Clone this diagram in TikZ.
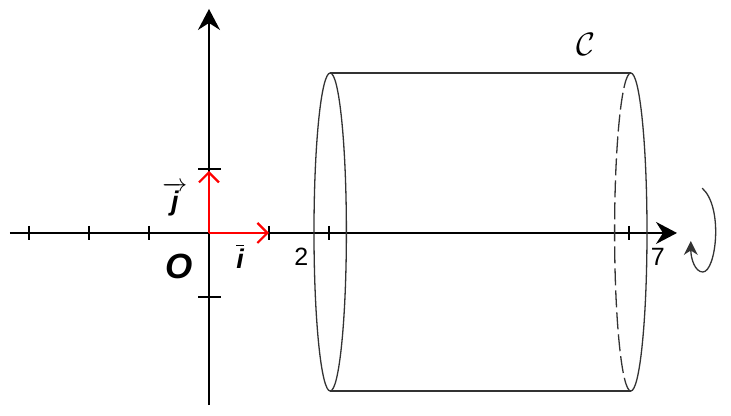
\documentclass[tikz,border=0pt]{standalone}
\usepackage{amsmath,amssymb}
\usepackage{fontspec}
\setmainfont{Liberation Sans}
\usepackage{tikz}
\usetikzlibrary{arrows.meta}

\tikzset{
    axisline/.style={line width=2pt,-{Stealth[length=21pt,width=22pt,inset=7pt]}},
    vect/.style={red,line width=2.2pt,-{Straight Barb[length=10pt,width=20pt,line width=2.2pt]}},
    cyledge/.style={line width=1.3pt,black!80},
    tickmark/.style={line width=1.2pt},
    lab/.style={inner sep=0pt,font=\fontsize{25}{27}\selectfont},
    vlab/.style={inner sep=0pt,font=\fontsize{27}{29}\selectfont\bfseries\itshape}
}

\begin{document}
\begin{tikzpicture}[x=60pt,y=64pt]
    \useasboundingbox (-3.483,-2.859) rectangle (8.7,3.64);

    % axes
    \coordinate (O) at (0,0);
    \coordinate (xstart) at (-3.32,0);
    \coordinate (xend) at (7.8,0);
    \coordinate (ystart) at (0,-2.69);
    \coordinate (yend) at (0,3.5);
    \draw[axisline] (xstart) -- (xend);
    \draw[axisline] (ystart) -- (yend);

    % ticks
    \foreach \x in {-3,-2,-1,1,2,7} {
        \coordinate (xa\x) at (\x,0.11);
        \coordinate (xb\x) at (\x,-0.11);
        \draw[tickmark] (xa\x) -- (xb\x);
    }
    \foreach \y in {-1,1} {
        \coordinate (ya\y) at (-0.18,\y);
        \coordinate (yb\y) at (0.2,\y);
        \draw[tickmark] (ya\y) -- (yb\y);
    }

    % unit vectors
    \coordinate (i) at (1,0);
    \coordinate (j) at (0,0.97);
    \draw[vect] (O) -- (i);
    \draw[vect] (O) -- (j);

    % cylinder
    \coordinate (ltop) at (2.02,2.5);
    \coordinate (lbot) at (2.02,-2.47);
    \coordinate (rtop) at (7.03,2.5);
    \coordinate (rbot) at (7.03,-2.47);
    \draw[cyledge] (ltop) -- (rtop);
    \draw[cyledge] (lbot) -- (rbot);
    \draw[cyledge] (ltop) arc[start angle=90,end angle=450,x radius=0.27,y radius=2.485];
    \draw[cyledge] (rtop) arc[start angle=90,end angle=-90,x radius=0.27,y radius=2.485];
    \draw[cyledge,dash pattern=on 17pt off 5pt] (rtop) arc[start angle=90,end angle=270,x radius=0.27,y radius=2.485];

    % rotation
    \coordinate (rota) at (8.22,0.7);
    \coordinate (rotb) at (8.23,-0.61);
    \coordinate (rotc) at (8.03,-0.125);
    \draw[cyledge,-{Stealth[length=14pt,width=14pt]}] (rota) .. controls (8.58,0.4) and (8.45,-0.61) .. (rotb) .. controls (8.1,-0.61) and (8.03,-0.4) .. (rotc);

    % labels
    \node[lab] (two) at (1.54,-0.37) {2};
    \node[lab] (seven) at (7.48,-0.37) {7};
    \node[vlab,font=\fontsize{35}{37}\selectfont\bfseries\itshape] (orig) at (-0.5,-0.53) {O};
    \node[vlab] (jlab) at (-0.57,0.53) {$\overrightarrow{\text{\bfseries\itshape j}}$};
    \node[vlab] (ilab) at (0.52,-0.36) {$\overline{\text{\bfseries\itshape i}}$};
    \node[inner sep=0pt] (cyl) at (6.28,2.95) {\scalebox{1.3}{\fontsize{24}{26}\selectfont$\mathcal{C}$}};
\end{tikzpicture}
\end{document}
